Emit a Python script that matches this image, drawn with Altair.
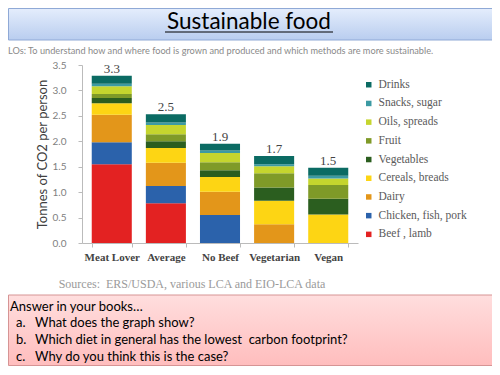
import altair as alt
import pandas as pd

# ---------------- data ----------------
diets = ["Meat Lover", "Average", "No Beef", "Vegetarian", "Vegan"]
total_labels = ["3.3", "2.5", "1.9", "1.7", "1.5"]

# stacking order: bottom -> top
foods = ["Beef , lamb", "Chicken, fish, pork", "Dairy", "Cereals, breads",
         "Vegetables", "Fruit", "Oils, spreads", "Snacks, sugar", "Drinks"]
food_colors = ["#e32222", "#2b62ab", "#e3961a", "#fdd514",
               "#2b5e1f", "#7f9a28", "#c5d52e", "#3c9aa3", "#0b6b63"]

beef_lamb = [1.55, 0.78, 0.00, 0.00, 0.00]
chicken_fish_pork = [0.43, 0.34, 0.55, 0.00, 0.00]
dairy = [0.54, 0.46, 0.46, 0.37, 0.00]
cereals_breads = [0.23, 0.29, 0.29, 0.46, 0.56]
vegetables = [0.10, 0.13, 0.13, 0.26, 0.31]
fruit = [0.08, 0.14, 0.16, 0.28, 0.27]
oils_spreads = [0.15, 0.18, 0.18, 0.14, 0.13]
snacks_sugar = [0.05, 0.05, 0.05, 0.04, 0.05]
drinks = [0.16, 0.16, 0.13, 0.16, 0.16]

series = [beef_lamb, chicken_fish_pork, dairy, cereals_breads, vegetables,
          fruit, oils_spreads, snacks_sugar, drinks]

y_ticks = [0.0, 0.5, 1.0, 1.5, 2.0, 2.5, 3.0, 3.5]

title_text = "Sustainable food"
lo_text = ("LOs: To understand how and where food is grown and produced and "
           "which methods are more sustainable.")
source_text = "Sources:\u00a0 ERS/USDA, various LCA and EIO-LCA data"
answer_head = "Answer in your books\u2026"
question_letters = ["a.", "b.", "c."]
questions = ["What does the graph show?",
             "Which diet in general has the lowest\u00a0 carbon footprint?",
             "Why do you think this is the case?"]

# ---------------- tables ----------------
rows = []
for fi, (food, vals) in enumerate(zip(foods, series)):
    for d, v in zip(diets, vals):
        if v > 0:
            rows.append({"diet": d, "food": food, "value": v, "rank": fi})
df = pd.DataFrame(rows)

tot = pd.DataFrame({
    "diet": diets,
    "value": [sum(s[i] for s in series) for i in range(len(diets))],
    "label": total_labels,
})

legend_domain = foods[::-1]
legend_range = food_colors[::-1]

SERIF = "Liberation Serif"
SANS = "Lato"

xscale = alt.Scale(paddingInner=0.26, paddingOuter=0.18)
xaxis = alt.Axis(title=None, labelAngle=0, labelFont=SERIF,
                 labelFontWeight="bold", labelFontSize=11,
                 labelColor="#444444", labelPadding=4,
                 tickSize=4, tickColor="#bbbbbb", tickBand="extent",
                 domainColor="#bbbbbb")
yscale = alt.Scale(domain=[0, 3.5], nice=False)
yaxis = alt.Axis(values=y_ticks, format=".1f", grid=False, labelOverlap=False,
                 labelFont=SANS, labelFontSize=10, labelColor="#808080",
                 tickSize=4, tickColor="#bbbbbb", domainColor="#bbbbbb",
                 labelPadding=12,
                 title="Tonnes of CO2 per person", titleFont=SANS,
                 titleFontSize=13, titleFontWeight="normal",
                 titleColor="#404040", titleX=-40, titleY=89,
                 titleAngle=-90, titleAlign="center",
                 titleBaseline="middle")

bars = alt.Chart(df).mark_bar().encode(
    x=alt.X("diet:N", sort=diets, scale=xscale, axis=xaxis),
    y=alt.Y("value:Q", stack="zero", scale=yscale, axis=yaxis),
    color=alt.Color("food:N",
                    scale=alt.Scale(domain=legend_domain, range=legend_range),
                    legend=alt.Legend(orient="none", legendX=281, legendY=14,
                                      title=None, symbolType="square",
                                      symbolSize=30, symbolStrokeWidth=0,
                                      labelFont=SERIF, labelFontSize=11.5,
                                      labelColor="#5a5a5a", rowPadding=5.7,
                                      labelOffset=4)),
    order=alt.Order("rank:Q", sort="ascending"),
)

totals = alt.Chart(tot).mark_text(font=SERIF, fontSize=13, color="#444444",
                                  baseline="middle", dy=-7).encode(
    x=alt.X("diet:N", sort=diets, scale=xscale, axis=xaxis),
    y=alt.Y("value:Q", scale=yscale, axis=yaxis),
    text="label:N",
)

one = pd.DataFrame({"k": [0]})


def label(text, x, y, size, font=SANS, color="#000000", align="left"):
    return alt.Chart(one).mark_text(text=text, font=font, fontSize=size,
                                    color=color, align=align,
                                    baseline="middle").encode(
        x=alt.value(x), y=alt.value(y))


title_box = alt.Chart(one).mark_rect(
    fill=alt.LinearGradient(gradient="linear",
                            stops=[alt.GradientStop(color="#e4edfc", offset=0),
                                   alt.GradientStop(color="#b9cdef", offset=1)],
                            x1=0, x2=0, y1=0, y2=1),
    stroke="#8fa9d6", strokeWidth=1).encode(
    x=alt.value(-73.5), x2=alt.value(410.5), y=alt.value(-56.5), y2=alt.value(-25))

underline = alt.Chart(one).mark_rule(color="#000000", strokeWidth=1).encode(
    x=alt.value(83), x2=alt.value(251), y=alt.value(-33))

answer_box = alt.Chart(one).mark_rect(
    fill=alt.LinearGradient(gradient="linear",
                            stops=[alt.GradientStop(color="#ffdede", offset=0),
                                   alt.GradientStop(color="#ffbdbd", offset=1)],
                            x1=0, x2=0, y1=0, y2=1),
    stroke="#d69494", strokeWidth=1).encode(
    x=alt.value(-73.5), x2=alt.value(410.5), y=alt.value(230), y2=alt.value(300.5))

layers = [title_box, answer_box,
          label(title_text, 167, -43, 22.5, align="center"),
          underline,
          label(lo_text, -74, -14, 9.2, color="#8a8a8a"),
          label(source_text, 110, 219, 12, font=SERIF, color="#9a9a9a",
                align="center"),
          label(answer_head, -72, 241.5, 13)]

q_y = [258.3, 274.8, 291.5]
for letter, q, yy in zip(question_letters, questions, q_y):
    layers.append(label(letter, -66, yy, 13))
    layers.append(label(q, -47, yy, 13))

layers += [bars, totals]

chart = alt.layer(*layers).properties(
    width=276, height=178,
    autosize=alt.AutoSizeParams(type="none"),
    padding={"left": 74, "top": 57, "right": 134, "bottom": 124},
    background="white",
).configure_view(stroke=None)

chart.save("out.html", embed_options={"renderer": "svg", "actions": False})
